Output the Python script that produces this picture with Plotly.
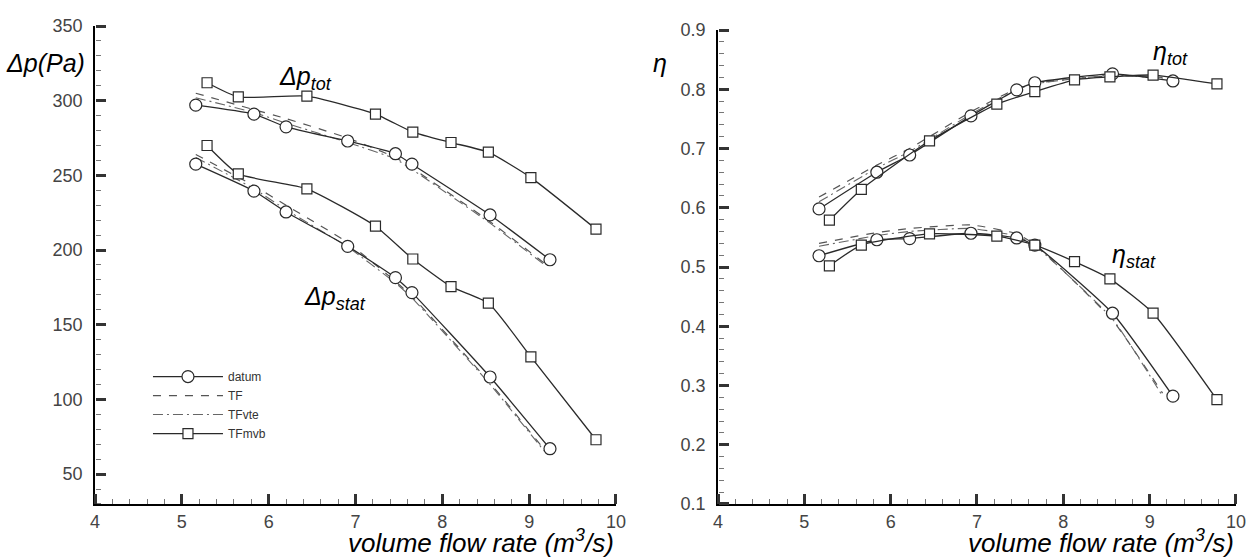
import plotly.graph_objects as go

# --- pressure rise (left panel) ---
q_datum = [5.16, 5.83, 6.20, 6.91, 7.46, 7.65, 8.55, 9.24]
q_tf = [5.16, 5.83, 6.20, 6.91, 7.46, 7.65, 8.55, 9.18]
q_mvb = [5.29, 5.65, 6.44, 7.23, 7.66, 8.10, 8.53, 9.02, 9.77]

dp_tot_datum = [297, 291, 282.5, 273, 264.5, 257.5, 223.5, 193.5]
dp_tot_tf = [305, 294, 288, 275, 262, 255, 219, 191]
dp_tot_tfvte = [302, 292, 285, 272, 261, 254, 218, 190]
dp_tot_mvb = [312, 302.5, 303, 291, 279, 272, 265.5, 248.5, 214]

dp_stat_datum = [257.5, 239.5, 225.5, 202.5, 181.5, 171.5, 115, 67]
dp_stat_tf = [264, 243, 230, 205, 179, 169, 111, 66]
dp_stat_tfvte = [262, 241, 227, 202, 178, 168, 110, 65]
dp_stat_mvb = [270, 251, 241, 216, 194, 175.5, 164.5, 128.5, 73]

# --- efficiency (right panel) ---
qe_datum = [5.17, 5.84, 6.22, 6.93, 7.46, 7.67, 8.57, 9.27]
qe_tf = [5.17, 5.84, 6.22, 6.93, 7.46, 7.67, 8.57, 9.15]
qe_mvb = [5.29, 5.66, 6.45, 7.23, 7.67, 8.13, 8.54, 9.04, 9.78]

eta_tot_datum = [0.598, 0.660, 0.689, 0.755, 0.799, 0.811, 0.826, 0.814]
eta_tot_tf = [0.618, 0.672, 0.700, 0.762, 0.801, 0.810, 0.823, 0.820]
eta_tot_tfvte = [0.610, 0.667, 0.695, 0.758, 0.800, 0.809, 0.824, 0.818]
eta_tot_mvb = [0.579, 0.631, 0.713, 0.775, 0.796, 0.816, 0.821, 0.824, 0.809]

eta_stat_datum = [0.519, 0.546, 0.548, 0.557, 0.549, 0.537, 0.422, 0.282]
eta_stat_tf = [0.540, 0.558, 0.565, 0.571, 0.556, 0.538, 0.410, 0.287]
eta_stat_tfvte = [0.535, 0.553, 0.560, 0.565, 0.552, 0.536, 0.412, 0.282]
eta_stat_mvb = [0.502, 0.537, 0.556, 0.552, 0.537, 0.509, 0.480, 0.422, 0.276]

# axis ticks: (first labelled value, step, minor step)
x_tick = (4, 1, 0.2)
dp_tick = (50, 50, 10)
eta_tick = (0.1, 0.1, 0.02)

INK = "#2a2a2a"
FONT = "Liberation Sans, Arial, sans-serif"

styles = {
    "datum": dict(line=dict(color=INK, width=1.3, shape="spline", smoothing=0.5),
                  marker=dict(symbol="circle", size=12, color="white",
                              line=dict(color=INK, width=1.2)), mode="lines+markers"),
    "TF": dict(line=dict(color="#555555", width=1.2, dash="8px,8px", shape="spline", smoothing=0.5),
               mode="lines"),
    "TFvte": dict(line=dict(color="#666666", width=1.1, dash="10px,4px,2px,4px", shape="spline", smoothing=0.5),
                  mode="lines"),
    "TFmvb": dict(line=dict(color=INK, width=1.3, shape="spline", smoothing=0.5),
                  marker=dict(symbol="square", size=10, color="white",
                              line=dict(color=INK, width=1.2)), mode="lines+markers"),
}

fig = go.Figure()


def add(name, x, y, xa, ya, show):
    fig.add_trace(go.Scatter(x=x, y=y, name=name, legendgroup=name, showlegend=show,
                             xaxis=xa, yaxis=ya, **styles[name]))


# left panel: plain lines first, marker series on top
add("TF", q_tf, dp_tot_tf, "x", "y", False)
add("TFvte", q_tf, dp_tot_tfvte, "x", "y", False)
add("TF", q_tf, dp_stat_tf, "x", "y", False)
add("TFvte", q_tf, dp_stat_tfvte, "x", "y", False)
add("datum", q_datum, dp_tot_datum, "x", "y", False)
add("datum", q_datum, dp_stat_datum, "x", "y", False)
add("TFmvb", q_mvb, dp_tot_mvb, "x", "y", False)
add("TFmvb", q_mvb, dp_stat_mvb, "x", "y", False)

# right panel
add("TF", qe_tf, eta_tot_tf, "x2", "y2", False)
add("TFvte", qe_tf, eta_tot_tfvte, "x2", "y2", False)
add("TF", qe_tf, eta_stat_tf, "x2", "y2", False)
add("TFvte", qe_tf, eta_stat_tfvte, "x2", "y2", False)
add("datum", qe_datum, eta_tot_datum, "x2", "y2", False)
add("datum", qe_datum, eta_stat_datum, "x2", "y2", False)
add("TFmvb", qe_mvb, eta_tot_mvb, "x2", "y2", False)
add("TFmvb", qe_mvb, eta_stat_mvb, "x2", "y2", False)

# legend entries in the order datum, TF, TFvte, TFmvb
for i, nm in enumerate(["datum", "TF", "TFvte", "TFmvb"]):
    fig.add_trace(go.Scatter(x=[None], y=[None], name=nm, legendgroup=nm, showlegend=True,
                             xaxis="x", yaxis="y", legendrank=i + 1, **styles[nm]))

# empty traces that register the tick-only overlay axes
for xa, ya in [("x3", "y"), ("x", "y3"), ("x4", "y2"), ("x2", "y4")]:
    fig.add_trace(go.Scatter(x=[None], y=[None], xaxis=xa, yaxis=ya, showlegend=False,
                             hoverinfo="skip", mode="lines"))

X_LEFT = [0.0758, 0.4912]
X_RIGHT = [0.5726, 0.9856]
Y_LEFT = [0.0952, 0.9533]
Y_RIGHT = [0.0952, 0.9461]


def label_axis(domain, rng, tick, anchor, standoff, **extra):
    # axis line and tick labels
    d = dict(domain=domain, range=rng, tickmode="linear", tick0=tick[0], dtick=tick[1],
             anchor=anchor, showline=True, linecolor="black", linewidth=2, ticks="",
             showgrid=False, zeroline=False, ticklabelstandoff=standoff,
             tickfont=dict(family=FONT, size=18, color="#444444"))
    d.update(extra)
    return d


def tick_axis(rng, tick, overlaying, side, position):
    # companion axis on the opposite side: its outward ticks point into the plot area
    return dict(range=rng, tickmode="linear", tick0=tick[0], dtick=tick[1],
                overlaying=overlaying, side=side, anchor="free", position=position,
                showline=False, showticklabels=False, showgrid=False, zeroline=False,
                ticks="outside", ticklen=10, tickwidth=3, tickcolor="#333333",
                minor=dict(dtick=tick[2], ticks="outside", ticklen=5, tickwidth=1,
                           tickcolor="#777777", showgrid=False))


fig.update_layout(
    template="none",
    width=1254, height=557,
    margin=dict(l=0, r=0, t=0, b=0),
    paper_bgcolor="white", plot_bgcolor="white",
    font=dict(family=FONT, color=INK),
    showlegend=True,
    xaxis=label_axis(X_LEFT, [4, 10], x_tick, "y", 0),
    yaxis=label_axis(Y_LEFT, [30, 350], dp_tick, "x", 7),
    xaxis2=label_axis(X_RIGHT, [4, 10], x_tick, "y2", 0),
    yaxis2=label_axis(Y_RIGHT, [0.1, 0.9], eta_tick, "x2", 7, tickformat=".1f"),
    xaxis3=tick_axis([4, 10], x_tick, "x", "top", Y_LEFT[0]),
    yaxis3=tick_axis([30, 350], dp_tick, "y", "right", X_LEFT[0]),
    xaxis4=tick_axis([4, 10], x_tick, "x2", "top", Y_RIGHT[0]),
    yaxis4=tick_axis([0.1, 0.9], eta_tick, "y2", "right", X_RIGHT[0]),
    legend=dict(x=0.118, y=0.350, xanchor="left", yanchor="top", bgcolor="rgba(0,0,0,0)",
                font=dict(family=FONT, size=12, color="#333333"), itemwidth=70,
                tracegroupgap=0, traceorder="normal"),
)

ann_font = dict(family=FONT, size=25, color="black")
sub = "font-size:18px"
annotations = [
    dict(text="<i>Δp(Pa)</i>", x=0.036, y=0.887, xref="paper", yref="paper"),
    dict(text="<i>η</i>", x=0.526, y=0.887, xref="paper", yref="paper"),
    dict(text="<i>volume flow rate (m<sup>3</sup>/s)</i>", x=0.4912, y=0.028,
         xref="paper", yref="paper", xanchor="right", size=26),
    dict(text="<i>volume flow rate (m<sup>3</sup>/s)</i>", x=0.9856, y=0.028,
         xref="paper", yref="paper", xanchor="right", size=26),
    dict(text=f"<i>Δp<sub><span style='{sub}'>tot</span></sub></i>", x=6.42, y=315, xref="x", yref="y"),
    dict(text=f"<i>Δp<sub><span style='{sub}'>stat</span></sub></i>", x=6.76, y=168, xref="x", yref="y"),
    dict(text=f"<i>η<sub><span style='{sub}'>tot</span></sub></i>", x=9.24, y=0.862, xref="x2", yref="y2"),
    dict(text=f"<i>η<sub><span style='{sub}'>stat</span></sub></i>", x=8.82, y=0.518, xref="x2", yref="y2"),
]
for a in annotations:
    a.setdefault("xanchor", "center")
    size = a.pop("size", 25)
    fig.add_annotation(showarrow=False, font=dict(ann_font, size=size), yanchor="middle", **a)

fig.write_html("out.html")
